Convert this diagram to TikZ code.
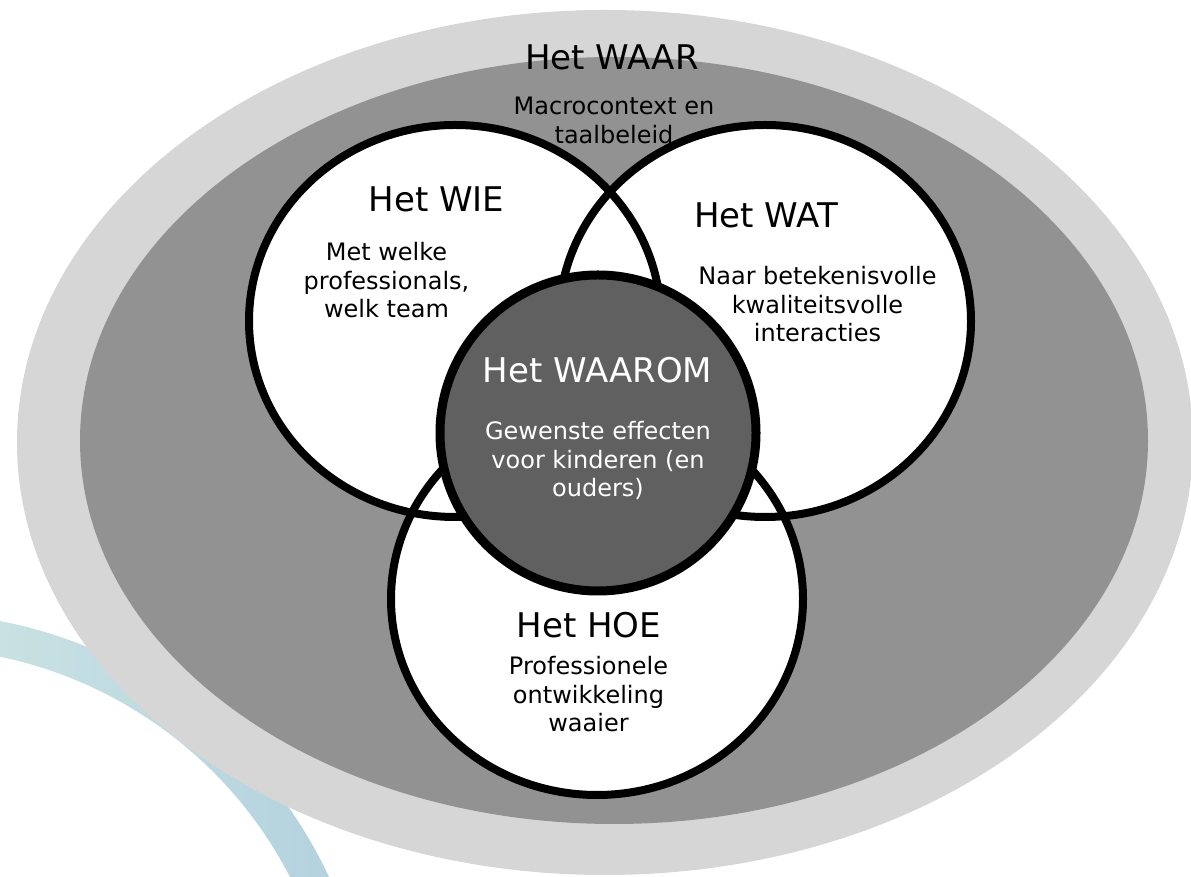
\documentclass[tikz,border=0pt]{standalone}
\usepackage{fontspec}
\setmainfont{DejaVu Sans}

\definecolor{waarlight}{HTML}{D6D6D6}
\definecolor{waardark}{HTML}{929292}
\definecolor{waaromgray}{HTML}{606060}
\definecolor{swooshleft}{HTML}{D2E9E5}
\definecolor{swooshright}{HTML}{B2D1DE}

\begin{document}
\begin{tikzpicture}[x=1pt, y=1pt,
  title/.style={anchor=base, inner sep=0pt, font=\fontsize{34}{40}\selectfont},
  body/.style={anchor=base, inner sep=0pt, align=center, font=\fontsize{24}{28.5}\selectfont},
  ring/.style={line width=8pt}]
  % Canvas
  \useasboundingbox (0,0) rectangle (1191,877);
  \clip (0,0) rectangle (1191,877);

  % Swoosh in the lower left corner
  \coordinate (swc) at (-86,-194);
  \shade[left color=swooshleft, right color=swooshright]
    ([shift={(100:458)}]swc) arc[start angle=100, end angle=10, radius=458]
    -- ([shift={(10:423)}]swc) arc[start angle=10, end angle=100, radius=423] -- cycle;

  % The WAAR: two nested ellipses
  \fill[waarlight] (605,434.5) ellipse[x radius=588, y radius=432.5];
  \fill[waardark] (614,436.5) ellipse[x radius=534, y radius=383.5];

  % WIE, WAT and HOE: fills first, outlines on top
  \fill[white] (455,556) ellipse[x radius=206, y radius=196];
  \fill[white] (765,556) ellipse[x radius=206, y radius=196];
  \fill[white] (597,278) ellipse[x radius=206, y radius=196];
  \draw[ring] (455,556) ellipse[x radius=206, y radius=196];
  \draw[ring] (765,556) ellipse[x radius=206, y radius=196];
  \draw[ring] (597,278) ellipse[x radius=206, y radius=196];

  % The WAAROM in the middle
  \filldraw[fill=waaromgray, draw=black, line width=9pt] (598,444) circle[radius=158];

  % Labels (body nodes sit on the baseline of their last line)
  \node[title] (waar) at (612,807) {Het WAAR};
  \node[body] (waartxt) at (614,733.5) {Macrocontext en\\taalbeleid};

  \node[title] (wie) at (436.5,665) {Het WIE};
  \node[body] (wietxt) at (386.5,559) {Met welke\\professionals,\\welk team};

  \node[title] (wat) at (766,649) {Het WAT};
  \node[body] (wattxt) at (817.5,535) {Naar betekenisvolle\\kwaliteitsvolle\\interacties};

  \node[title, white] (waarom) at (597.5,494) {Het WAAROM};
  \node[body, white] (waaromtxt) at (598,380) {Gewenste effecten\\voor kinderen (en\\ouders)};

  \node[title] (hoe) at (589,239) {Het HOE};
  \node[body] (hoetxt) at (588.5,145) {Professionele\\ontwikkeling\\waaier};
\end{tikzpicture}
\end{document}
